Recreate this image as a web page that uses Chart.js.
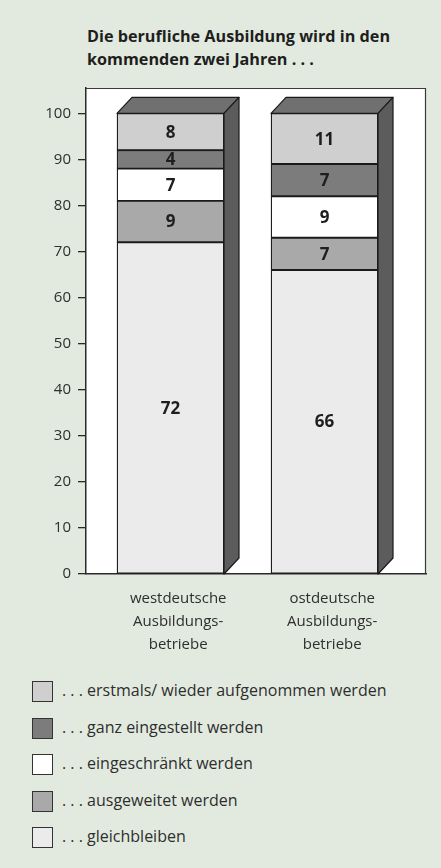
<!DOCTYPE html>
<html>
<head>
<meta charset="utf-8">
<script src="https://cdn.jsdelivr.net/npm/chart.js@4.4.0/dist/chart.umd.min.js"></script>
<style>
  html, body { margin: 0; padding: 0; }
  body { width: 441px; height: 868px; background: #e2eadf; position: relative; overflow: hidden; font-family: "Open Sans", sans-serif; color: #2a2a2a; }
  #title { position: absolute; left: 87px; top: 25px; font-weight: bold; font-size: 16.2px; line-height: 23px; color: #1e1e1e; }
  #wrap { position: absolute; left: 0; top: 0; width: 441px; height: 660px; }
  #legend { position: absolute; left: 32px; top: 681px; }
  .row { position: relative; height: 36.6px; }
  .sw { position: absolute; left: 0; top: 0; width: 19px; height: 19px; border: 1.5px solid #333; }
  .lt { position: absolute; left: 30px; top: -2px; font-size: 16px; line-height: 22px; color: #2e2e2e; white-space: nowrap; }
</style>
</head>
<body>
<div id="title">Die berufliche Ausbildung wird in den<br>kommenden zwei Jahren . . .</div>
<div id="wrap"><canvas id="c" width="441" height="660"></canvas></div>
<div id="legend"></div>
<script>
// ---- data ----
const categories = [["westdeutsche", "Ausbildungs-", "betriebe"], ["ostdeutsche", "Ausbildungs-", "betriebe"]];
const seriesNames = [". . . gleichbleiben", ". . . ausgeweitet werden", ". . . eingeschränkt werden", ". . . ganz eingestellt werden", ". . . erstmals/ wieder aufgenommen werden"];
const gleichbleiben = [72, 66];
const ausgeweitet = [9, 7];
const eingeschraenkt = [7, 9];
const eingestellt = [4, 7];
const aufgenommen = [8, 11];
const yTickValues = [0, 10, 20, 30, 40, 50, 60, 70, 80, 90, 100];

const seriesValues = [gleichbleiben, ausgeweitet, eingeschraenkt, eingestellt, aufgenommen];
const seriesColors = ["#ebebeb", "#a9a9a9", "#ffffff", "#7c7c7c", "#cfcfcf"];

// legend (top segment first)
const legendEl = document.getElementById('legend');
for (let i = seriesNames.length - 1; i >= 0; i--) {
  const row = document.createElement('div'); row.className = 'row';
  const sw = document.createElement('div'); sw.className = 'sw'; sw.style.background = seriesColors[i];
  const lt = document.createElement('div'); lt.className = 'lt'; lt.textContent = seriesNames[i];
  row.appendChild(sw); row.appendChild(lt); legendEl.appendChild(row);
}

const datasets = seriesValues.map((vals, s) => ({
  label: seriesNames[s],
  data: vals.map((v, i) => ({ x: i, y: v })),
  backgroundColor: seriesColors[s],
  borderColor: "#1a1a1a",
  borderWidth: 1.3,
  borderSkipped: false,
  barThickness: 107
}));

const DX = 15, DY = 16;
const LABEL_SHIFT = 0.05; // category labels centred on front + depth

const boxPlugin = {
  id: 'box',
  beforeDraw(chart) {
    const { ctx, chartArea: a } = chart;
    ctx.save();
    ctx.fillStyle = '#ffffff';
    ctx.fillRect(a.left, a.top, a.right - a.left, a.bottom - a.top);
    ctx.strokeStyle = '#3a3a3a';
    ctx.lineWidth = 1.2;
    ctx.beginPath();
    ctx.moveTo(a.left, a.top + 0.5); ctx.lineTo(a.right - 0.5, a.top + 0.5); ctx.lineTo(a.right - 0.5, a.bottom);
    ctx.stroke();
    ctx.restore();
  }
};

const depthPlugin = {
  id: 'depth',
  afterDatasetsDraw(chart) {
    const { ctx } = chart;
    const yScale = chart.scales.y;
    const topMeta = chart.getDatasetMeta(chart.data.datasets.length - 1);
    const bottomY = yScale.getPixelForValue(0);
    ctx.save();
    ctx.strokeStyle = '#1a1a1a';
    ctx.lineWidth = 1.2;
    ctx.lineJoin = 'round';
    topMeta.data.forEach((el) => {
      const l = el.x - el.width / 2, r = el.x + el.width / 2, t = el.y;
      // top face
      ctx.fillStyle = '#707070';
      ctx.beginPath();
      ctx.moveTo(l, t); ctx.lineTo(l + DX, t - DY); ctx.lineTo(r + DX, t - DY); ctx.lineTo(r, t); ctx.closePath();
      ctx.fill(); ctx.stroke();
      // side face
      ctx.fillStyle = '#5c5c5c';
      ctx.beginPath();
      ctx.moveTo(r, t); ctx.lineTo(r + DX, t - DY); ctx.lineTo(r + DX, bottomY - DY); ctx.lineTo(r, bottomY); ctx.closePath();
      ctx.fill(); ctx.stroke();
    });
    // value labels
    ctx.fillStyle = '#1e1e1e';
    ctx.font = 'bold 17px "Open Sans", sans-serif';
    ctx.textAlign = 'center';
    ctx.textBaseline = 'middle';
    chart.data.datasets.forEach((ds, di) => {
      chart.getDatasetMeta(di).data.forEach((el, i) => {
        ctx.fillText(String(ds.data[i].y), el.x, (el.y + el.base) / 2 + 1);
      });
    });
    ctx.restore();
  }
};

new Chart(document.getElementById('c'), {
  type: 'bar',
  data: { datasets },
  options: {
    responsive: false,
    animation: false,
    events: [],
    layout: { padding: { left: 0, right: 15, top: 88, bottom: 0 } },
    plugins: { legend: { display: false }, tooltip: { enabled: false } },
    scales: {
      x: {
        type: 'linear',
        stacked: true,
        offset: false,
        min: -0.5487,
        max: 1.659,
        grid: { display: false, offset: false },
        border: { display: true, color: '#2a2a2a', width: 1.5 },
        afterBuildTicks(scale) { scale.ticks = categories.map((c, i) => ({ value: i + LABEL_SHIFT })); },
        afterFit(scale) { scale.height = 86; },
        ticks: {
          padding: 5,
          color: '#2e2e2e',
          font: { family: '"Open Sans", sans-serif', size: 15, lineHeight: 1.533 },
          maxRotation: 0,
          autoSkip: false,
          callback: (v, i) => categories[i]
        }
      },
      y: {
        stacked: true,
        min: 0,
        max: 105.5,
        afterBuildTicks(scale) { scale.ticks = yTickValues.map(v => ({ value: v })); },
        afterFit(scale) { scale.width = 86; },
        grid: { display: true, drawOnChartArea: false, drawTicks: true, tickLength: 8, color: '#2a2a2a', lineWidth: 1.3 },
        border: { display: true, color: '#2a2a2a', width: 1.5 },
        ticks: {
          padding: 7,
          color: '#2e2e2e',
          font: { family: '"Open Sans", sans-serif', size: 15 }
        }
      }
    }
  },
  plugins: [boxPlugin, depthPlugin]
});
</script>
</body>
</html>
